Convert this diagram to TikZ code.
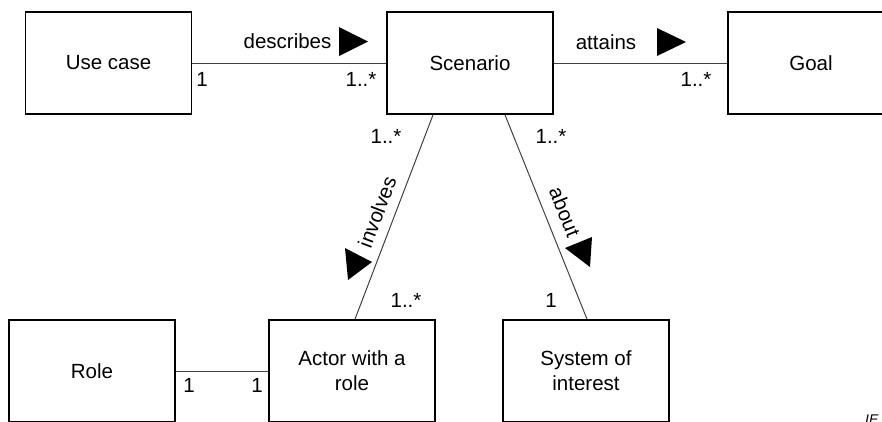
\documentclass[tikz,border=0pt]{standalone}
\usepackage{fontspec}
\setmainfont{Liberation Sans}
\begin{document}
\begin{tikzpicture}[x=1pt,y=-1pt,
  box/.style={draw,line width=1.8pt,minimum width=166pt,minimum height=102pt,inner sep=0pt,align=center,font=\fontsize{20.5}{25}\selectfont},
  lbl/.style={font=\fontsize{20.5}{25}\selectfont,inner sep=0pt,anchor=base},
  conn/.style={line width=1pt,black!75},
  tri/.style={fill=black}]
\useasboundingbox (0,0) rectangle (882,421);
\clip (0,0) rectangle (882,421);
% boxes
\node[box] (uc) at (108.5,63) {Use case};
\node[box] (sc) at (470,63) {Scenario};
\node[box] (goal) at (811,63) {Goal};
\node[box] (role) at (92,371) {Role};
\node[box] (act) at (352,371) {Actor with a\\role};
\node[box] (sys) at (586,371) {System of\\interest};
% connectors
\draw[conn] (uc) -- (sc);
\draw[conn] (sc) -- (goal);
\draw[conn] (role) -- (act);
\draw[conn] ([xshift=-37pt]sc.south) -- ([xshift=3pt]act.north);
\draw[conn] ([xshift=35pt]sc.south) -- ([xshift=1pt]sys.north);
% association names
\node[lbl] (ldesc) at (287.5,48) {describes};
\node[lbl] (latt) at (606,49) {attains};
\node[font=\fontsize{20.5}{25}\selectfont,inner sep=0pt,rotate=69.3] (linv) at (377,212) {involves};
\node[font=\fontsize{20.5}{25}\selectfont,inner sep=0pt,rotate=-68.3] (labt) at (565,212) {about};
% direction triangles
\fill[tri] (339,27) -- (368,41.5) -- (339,56) -- cycle;
\fill[tri] (657,28) -- (686,42) -- (657,56) -- cycle;
\fill[tri] (345,248) -- (372,262) -- (348,280) -- cycle;
\fill[tri] (592,237) -- (565,248) -- (590,267) -- cycle;
% multiplicities
\node[lbl] (m1) at (202,86) {1};
\node[lbl] (m2) at (361,86) {1..*};
\node[lbl] (m3) at (696,86) {1..*};
\node[lbl] (m4) at (386,143) {1..*};
\node[lbl] (m5) at (551,143) {1..*};
\node[lbl] (m6) at (406,307) {1..*};
\node[lbl] (m7) at (551,307) {1};
\node[lbl] (m8) at (189,392) {1};
\node[lbl] (m9) at (257,392) {1};
% source mark
\node[font=\fontsize{14}{16}\selectfont\itshape,inner sep=0pt,anchor=base west] (iec) at (865,424) {IE};
\end{tikzpicture}
\end{document}
